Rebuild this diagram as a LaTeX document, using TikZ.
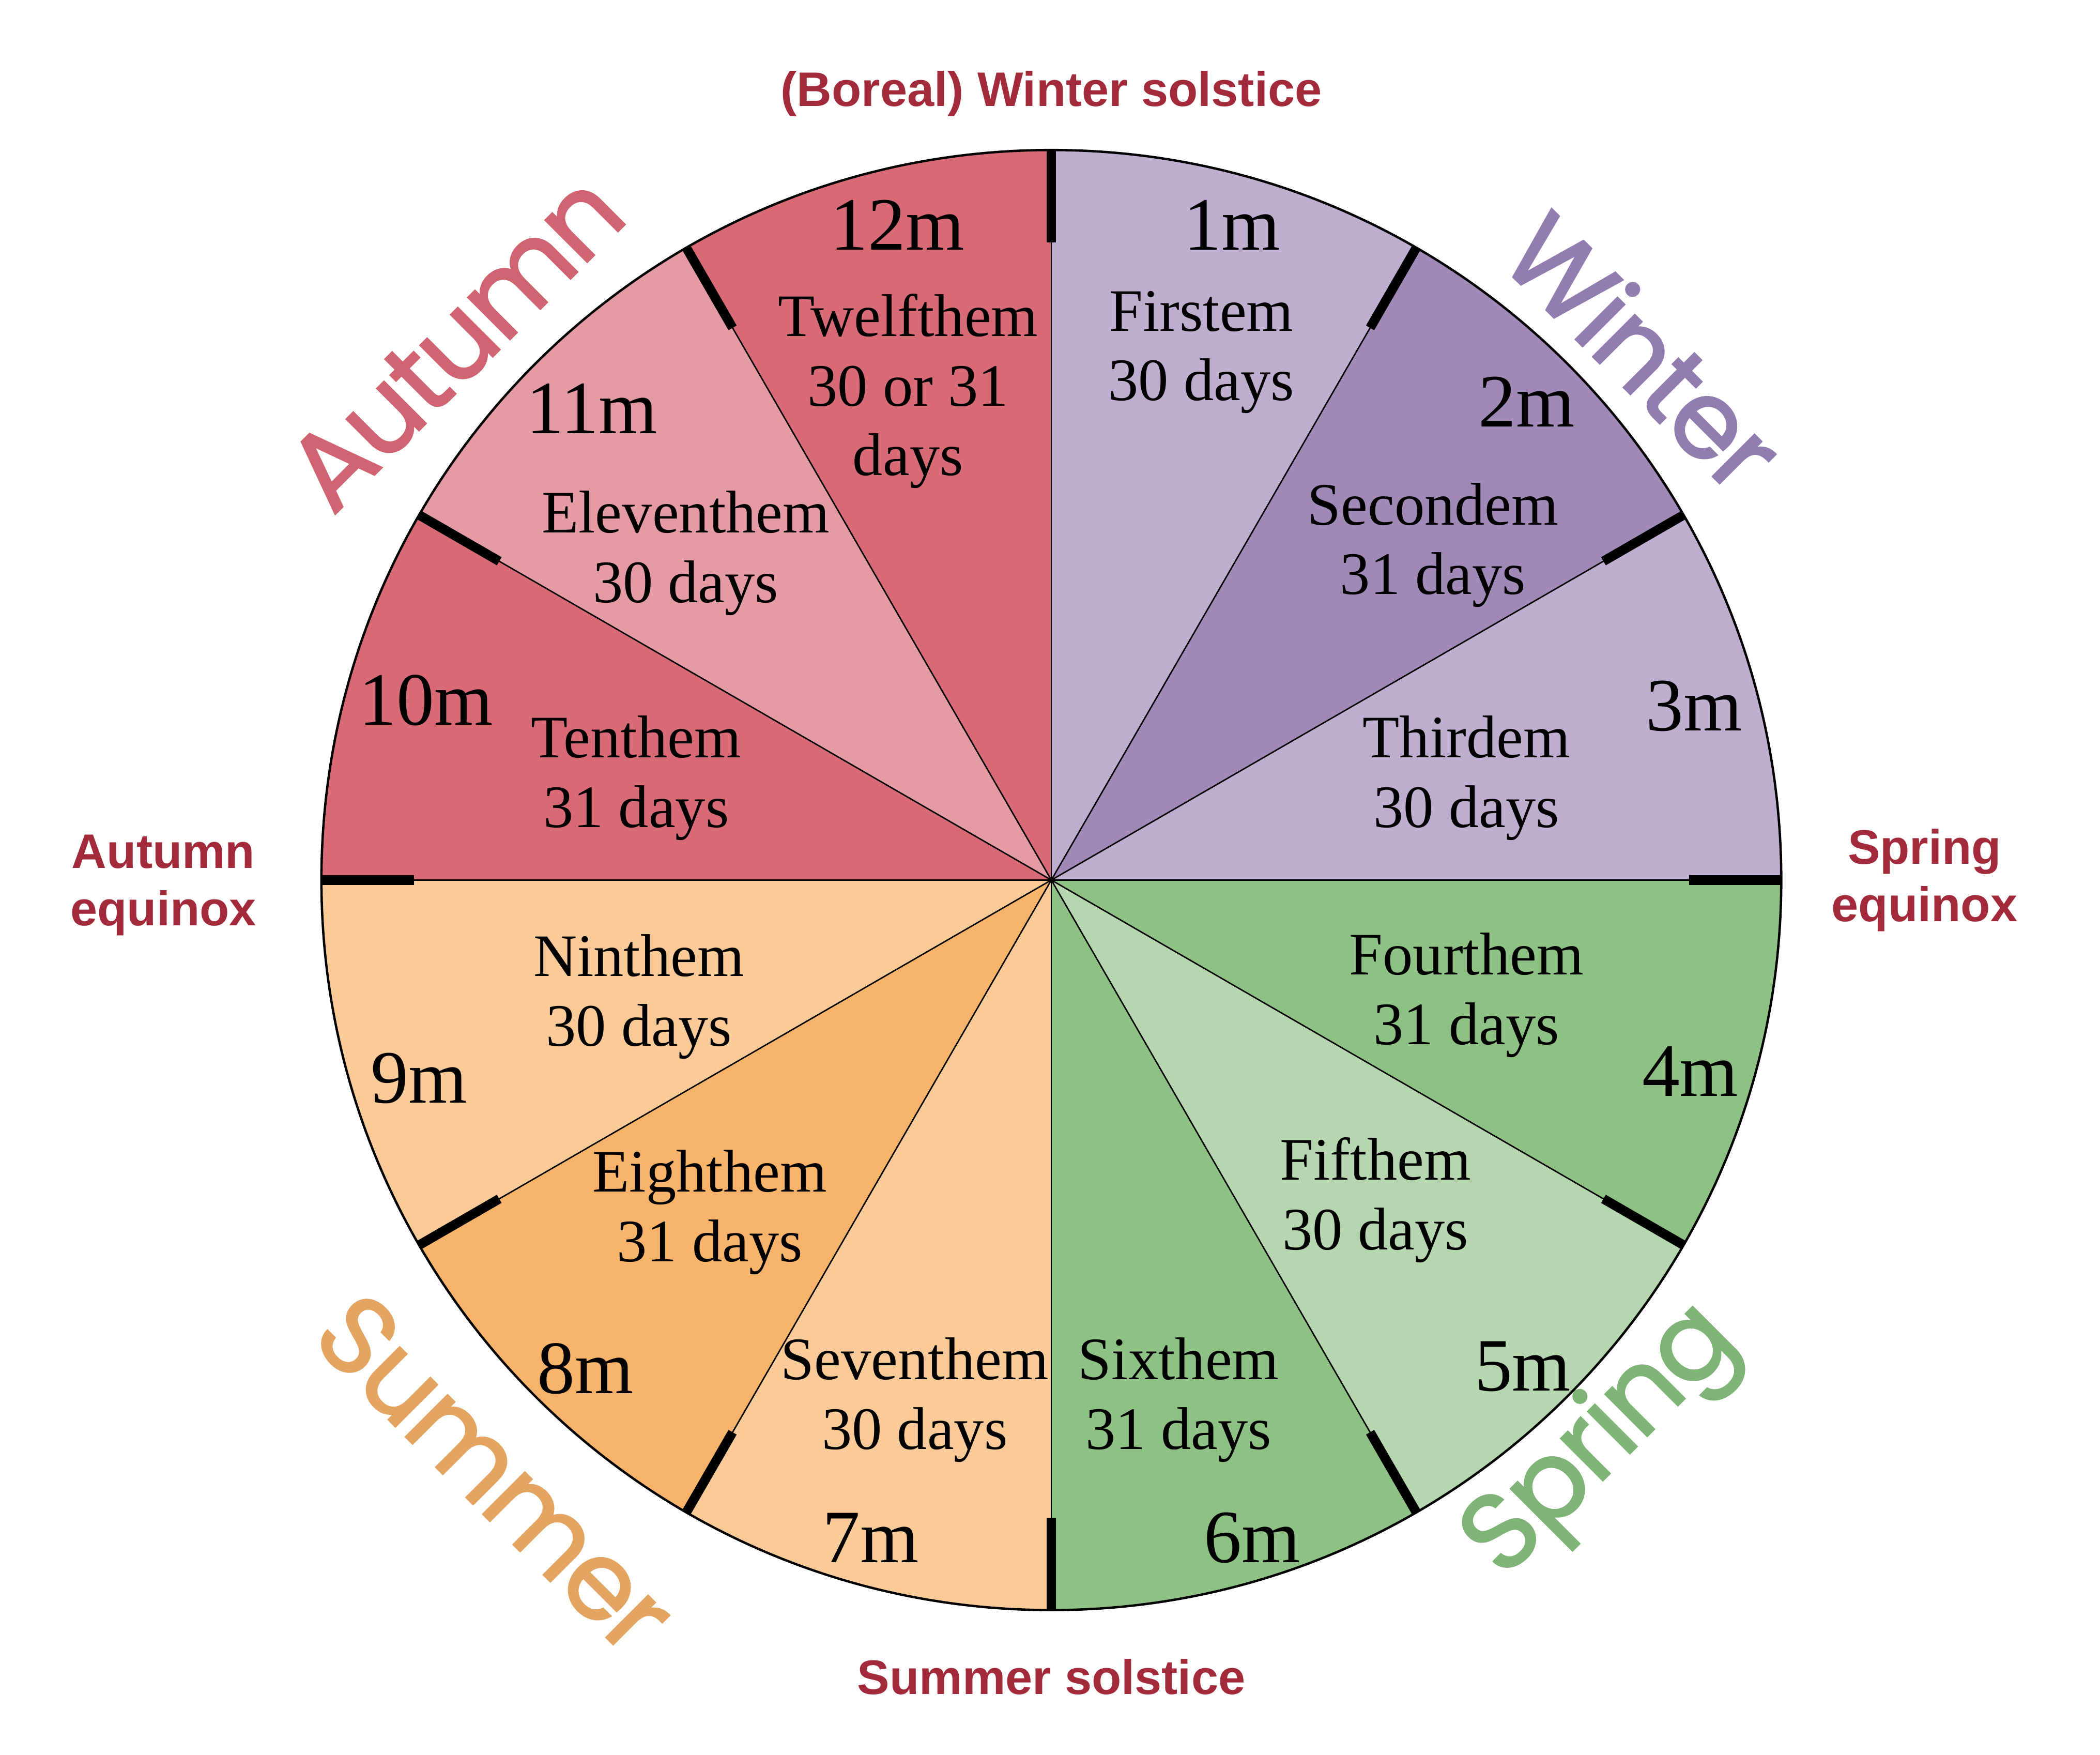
\documentclass[tikz,border=0pt]{standalone}
\usepackage{fontspec}
\setmainfont{Liberation Serif}
\newfontfamily\eventfont{Liberation Sans}
\newfontfamily\seasonfont{Poppins}[FakeBold=1.6, LetterSpace=-2]
\usepackage{xcolor}
\definecolor{lavlight}{RGB}{190,175,208}
\definecolor{lavdark}{RGB}{161,137,184}
\definecolor{grnmid}{RGB}{142,193,132}
\definecolor{grnlight}{RGB}{181,214,175}
\definecolor{peachlight}{RGB}{250,203,153}
\definecolor{peachdark}{RGB}{248,180,106}
\definecolor{rosemid}{RGB}{217,107,118}
\definecolor{roselight}{RGB}{229,155,164}
\definecolor{eventred}{RGB}{163,42,58}
\definecolor{autumnface}{RGB}{208,100,114}
\definecolor{winterface}{RGB}{145,125,175}
\definecolor{summerface}{RGB}{228,164,98}
\definecolor{springface}{RGB}{126,180,118}
\tikzset{
  monthnum/.style={font=\fontsize{16}{18}\selectfont, inner sep=0pt},
  monthname/.style={font=\fontsize{12.8}{14.8}\selectfont, align=center, inner sep=0pt},
  eventlabel/.style={font=\eventfont\bfseries\fontsize{10.3}{12.2}\selectfont,
                     text=eventred, align=center, inner sep=0pt},
  seasonword/.style={font=\seasonfont\fontsize{23}{28}\selectfont, inner sep=0pt},
  spoke/.style={line width=0.3pt, black},
  rim/.style={line width=0.5pt, black},
  rimtick/.style={line width=2pt, black},
}
\newcommand{\Rad}{5.45}

\begin{document}
\begin{tikzpicture}
  \useasboundingbox (-7.85,-6.53) rectangle (7.83,6.57);
  % sectors, month 1 starts at the top and runs clockwise
  \foreach \i/\col in {1/lavlight,2/lavdark,3/lavlight,4/grnmid,5/grnlight,6/grnmid,
                       7/peachlight,8/peachdark,9/peachlight,10/rosemid,11/roselight,12/rosemid}
    \fill[\col] (0,0) -- ({120-30*\i}:\Rad) arc[start angle={120-30*\i}, end angle={90-30*\i}, radius=\Rad] -- cycle;
  \foreach \a in {0,30,...,330} \draw[spoke] (0,0) -- (\a:\Rad);
  \draw[rim] (0,0) circle (\Rad);
  \foreach \a in {0,30,...,330} \draw[rimtick] (\a:\Rad) -- (\a:{\Rad-0.69});
  % Winter months
  \node[monthnum] (n1) at (1.35,4.89) {1m};
  \node[monthname] (t1) at (1.12,3.94) {Firstem\\30 days};
  \node[monthnum] (n2) at (3.55,3.57) {2m};
  \node[monthname] (t2) at (2.85,2.50) {Secondem\\31 days};
  \node[monthnum] (n3) at (4.80,1.30) {3m};
  \node[monthname] (t3) at (3.10,0.76) {Thirdem\\30 days};
  % Spring months
  \node[monthnum] (n4) at (4.77,-1.43) {4m};
  \node[monthname] (t4) at (3.10,-0.86) {Fourthem\\31 days};
  \node[monthnum] (n5) at (3.52,-3.63) {5m};
  \node[monthname] (t5) at (2.42,-2.39) {Fifthem\\30 days};
  \node[monthnum] (n6) at (1.50,-4.91) {6m};
  \node[monthname] (t6) at (0.95,-3.88) {Sixthem\\31 days};
  % Summer months
  \node[monthnum] (n7) at (-1.35,-4.91) {7m};
  \node[monthname] (t7) at (-1.02,-3.88) {Seventhem\\30 days};
  \node[monthnum] (n8) at (-3.48,-3.65) {8m};
  \node[monthname] (t8) at (-2.55,-2.48) {Eighthem\\31 days};
  \node[monthnum] (n9) at (-4.72,-1.48) {9m};
  \node[monthname] (t9) at (-3.08,-0.87) {Ninthem\\30 days};
  % Autumn months
  \node[monthnum] (n10) at (-4.67,1.34) {10m};
  \node[monthname] (t10) at (-3.10,0.76) {Tenthem\\31 days};
  \node[monthnum] (n11) at (-3.43,3.52) {11m};
  \node[monthname] (t11) at (-2.73,2.44) {Eleventhem\\30 days};
  \node[monthnum] (n12) at (-1.15,4.89) {12m};
  \node[monthname] (t12) at (-1.07,3.65) {Twelfthem\\30 or 31\\days};
  % solstices and equinoxes
  \node[eventlabel] (wsol) at (0,5.87) {(Boreal) Winter solstice};
  \node[eventlabel] (ssol) at (0,-5.95) {Summer solstice};
  \node[eventlabel] (speq) at (6.52,0) {Spring\\equinox};
  \node[eventlabel] (aueq) at (-6.63,-0.04) {Autumn\\equinox};
  % seasons
  \node[seasonword, text=winterface, rotate=-45] (winter) at (4.43,3.95) {Winter};
  \node[seasonword, text=autumnface, rotate=45] (autumn) at (-4.45,4.02) {Autumn};
  \node[seasonword, text=summerface, rotate=-45] (summer) at (-4.15,-4.43) {Summer};
  \node[seasonword, text=springface, rotate=45] (spring) at (4.12,-4.20) {Spring};
\end{tikzpicture}
\end{document}
